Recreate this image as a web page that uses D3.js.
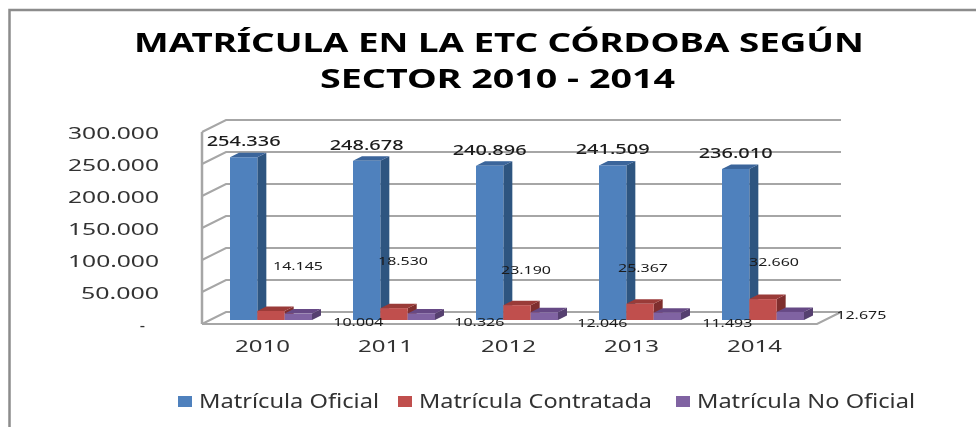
<!DOCTYPE html>
<html>
<head>
<meta charset="utf-8">
<script src="https://cdnjs.cloudflare.com/ajax/libs/d3/7.8.5/d3.min.js"></script>
<style>
html,body{margin:0;padding:0;background:#fff;}
svg{display:block;}
text{font-family:"Noto Sans",sans-serif;}
</style>
</head>
<body>
<div id="chart"></div>
<script>
// values
const years=["2010","2011","2012","2013","2014"];
const oficial=[254336,248678,240896,241509,236010];
const contratada=[14145,18530,23190,25367,32660];
const noOficial=[10004,10326,12046,11493,12675];
const tickValues=[0,50000,100000,150000,200000,250000,300000];
const seriesNames=["Matrícula Oficial","Matrícula Contratada","Matrícula No Oficial"];
const titleLines=["MATRÍCULA EN LA ETC CÓRDOBA SEGÚN","SECTOR 2010 - 2014"];

// hand placed labels in the original, offset from the top of their own bar
const redLabelNudge=[[27,-41],[9,-43],[9,-31],[3,-32],[11,-33]];
const purpleLabelNudge=[[60,12],[58,13],[58,15],[60,14],[71,7]];

const width=976,height=427;
const depthX=24,depthY=12;   // floor depth of the 3d box
const barDX=9,barDY=4.5;     // depth of each bar

const colors=[
	{front:"#4F81BD",side:"#2F5480",top:"#3A659B"},
	{front:"#C0504D",side:"#7F2F2D",top:"#9A3A38"},
	{front:"#8064A2",side:"#57406F",top:"#664A85"}
];

const svg=d3.select("#chart").append("svg").attr("width",width).attr("height",height);

// the reference is a soft, rescaled image
let soft=svg.append("defs").append("filter").attr("id","soft")
	.attr("x",0).attr("y",0).attr("width","100%").attr("height","100%")
	.attr("filterUnits","userSpaceOnUse");
soft.append("feGaussianBlur").attr("stdDeviation",0.5);
const root=svg.append("g").attr("filter","url(#soft)");

// outer frame, runs off the right and bottom of the crop
root.append("path").attr("d","M9.5,"+height+"V10H"+width)
	.attr("fill","none").attr("stroke","#8c8c8c").attr("stroke-width",2.5);

// stretches text to the width it has in the picture
function fit(sel,w){
	sel.attr("textLength",w).attr("lengthAdjust","spacingAndGlyphs");
}

root.selectAll(".title").data(titleLines).join("text")
	.attr("class","title")
	.attr("x",(d,i)=>i==0?134:320)
	.attr("y",(d,i)=>i==0?52:88)
	.attr("font-size",26).attr("font-weight",700).attr("fill","#000")
	.text(d=>d)
	.each(function(d,i){fit(d3.select(this),i==0?730:355);});

let x=d3.scaleBand().domain(years).range([202,817]);
let xSub=d3.scaleBand().domain(d3.range(3)).range([28,110]);
let y=d3.scaleLinear().domain([0,300000]).range([320,128]);

let es=d3.formatLocale({decimal:",",thousands:".",grouping:[3],currency:["",""]});
let fmt=es.format(",d");

// walls and gridlines
let grid=root.append("g");
tickValues.forEach(v=>{
	let front=y(v)+4,back=y(v)-8;
	grid.append("polyline")
		.attr("points",[[202,front],[202+depthX,back],[817+depthX,back]].join(" "))
		.attr("fill","none").attr("stroke","#a6a6a6").attr("stroke-width",2);
});
grid.append("line").attr("x1",202).attr("x2",202).attr("y1",y(300000)+4).attr("y2",y(0)+4)
	.attr("stroke","#a6a6a6").attr("stroke-width",2.5);
grid.append("polyline")
	.attr("points",[[202,y(0)+4],[817,y(0)+4],[817+depthX,y(0)-8]].join(" "))
	.attr("fill","none").attr("stroke","#a6a6a6").attr("stroke-width",2);

// axes
let yAxis=root.append("g").attr("transform","translate(162,5)")
	.call(d3.axisLeft(y).tickValues(tickValues).tickSize(0).tickFormat(d=>d==0?"-":fmt(d)));
yAxis.select(".domain").remove();
yAxis.selectAll("text").attr("font-size",16.5).attr("fill","#333").style("font-family",'"Noto Sans",sans-serif')
	.attr("dx",d=>d==0?-14:0)
	.each(function(d){
		if(d>=100000) fit(d3.select(this),91);
		else if(d>0) fit(d3.select(this),78);
	});

let xAxis=root.append("g").attr("transform","translate(-1,337)")
	.call(d3.axisBottom(x).tickSize(0));
xAxis.select(".domain").remove();
xAxis.selectAll("text").attr("font-size",16.5).attr("fill","#333").style("font-family",'"Noto Sans",sans-serif')
	.each(function(){fit(d3.select(this),55);});

// bars
[oficial,contratada,noOficial].forEach((vals,s)=>{
	let g=root.append("g").attr("class","serie");
	let w=xSub.bandwidth();
	let rows=vals.map((v,i)=>({v:v,year:years[i]}));
	let bar=g.selectAll("g").data(rows).join("g");
	bar.append("path").attr("fill",colors[s].side)
		.attr("d",d=>{
			let x1=x(d.year)+xSub(s)+w;
			return "M"+[x1,y(d.v)]+"L"+[x1+barDX,y(d.v)-barDY]+"L"+[x1+barDX,y(0)-barDY]+"L"+[x1,y(0)]+"Z";
		});
	bar.append("path").attr("fill",colors[s].top)
		.attr("d",d=>{
			let x0=x(d.year)+xSub(s);
			return "M"+[x0,y(d.v)]+"L"+[x0+barDX,y(d.v)-barDY]+"L"+[x0+w+barDX,y(d.v)-barDY]+"L"+[x0+w,y(d.v)]+"Z";
		});
	bar.append("rect").attr("fill",colors[s].front)
		.attr("x",d=>x(d.year)+xSub(s))
		.attr("y",d=>y(d.v))
		.attr("width",w)
		.attr("height",d=>y(0)-y(d.v));
});

// data labels
let labels=root.append("g").attr("fill","#1a1a1a").attr("text-anchor","middle");
labels.selectAll(".lab0").data(oficial).join("text")
	.attr("class","lab0")
	.attr("x",(d,i)=>x(years[i])+xSub(0)+xSub.bandwidth()/2)
	.attr("y",d=>y(d)-11)
	.attr("font-size",13.5).attr("font-weight",500).text(d=>fmt(d))
	.each(function(){fit(d3.select(this),74);});
labels.selectAll(".lab1").data(contratada).join("text")
	.attr("class","lab1")
	.attr("x",(d,i)=>x(years[i])+xSub(1)+xSub.bandwidth()/2+redLabelNudge[i][0])
	.attr("y",(d,i)=>y(d)+redLabelNudge[i][1])
	.attr("font-size",11).text(d=>fmt(d))
	.each(function(){fit(d3.select(this),50);});
labels.selectAll(".lab2").data(noOficial).join("text")
	.attr("class","lab2")
	.attr("x",(d,i)=>x(years[i])+xSub(2)+xSub.bandwidth()/2+purpleLabelNudge[i][0])
	.attr("y",(d,i)=>y(d)+purpleLabelNudge[i][1])
	.attr("font-size",11).text(d=>fmt(d))
	.each(function(){fit(d3.select(this),50);});

// legend
let legendX=[178,398,676];
let legendW=[180,233,218];
let legend=root.selectAll(".legend").data(seriesNames).join("g").attr("class","legend")
	.attr("transform",(d,i)=>"translate("+legendX[i]+",396)");
legend.append("rect").attr("width",14).attr("height",11).attr("fill",(d,i)=>colors[i].front);
legend.append("text").attr("x",21).attr("y",12).attr("font-size",19).attr("fill","#333")
	.text(d=>d)
	.each(function(d,i){fit(d3.select(this),legendW[i]);});
</script>
</body>
</html>
